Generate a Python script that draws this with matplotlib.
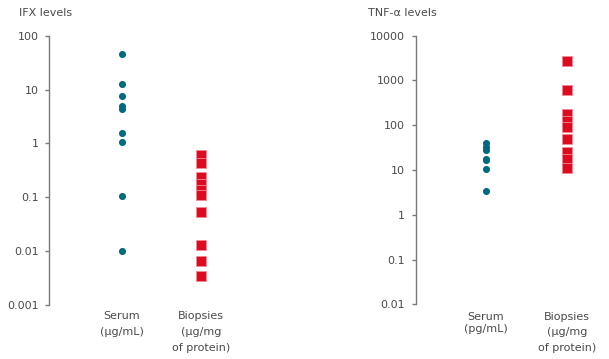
import matplotlib
matplotlib.use("Agg")
import matplotlib.pyplot as plt
import numpy as np

# ---- data ----
ifx_serum = [45, 12.6, 7.5, 5.0, 4.4, 1.55, 1.08, 0.105, 0.0102]
ifx_biopsies = [0.6, 0.44, 0.234, 0.18, 0.139, 0.112, 0.054, 0.0129, 0.0066, 0.0035]
tnf_serum = [39.6, 33, 28, 17.4, 16.5, 10.4, 3.37]
tnf_biopsies = [2770, 614, 181, 123, 90, 49, 25.8, 18, 11.3]

ifx_ticks = [0.001, 0.01, 0.1, 1, 10, 100]
ifx_ticklabels = ["0.001", "0.01", "0.1", "1", "10", "100"]
tnf_ticks = [0.01, 0.1, 1, 10, 100, 1000, 10000]
tnf_ticklabels = ["0.01", "0.1", "1", "10", "100", "1000", "10000"]

TEAL = "#006b7f"
RED = "#df0a20"
TXT = "#4a4a4a"
SPINE = "#7a7a7a"
FS = 8

W, H = 609, 359
fig = plt.figure(figsize=(W / 100, H / 100), dpi=100)

def make_ax(x_spine, x_right, y_top, y_bot):
    return fig.add_axes([x_spine / W, 1 - y_bot / H, (x_right - x_spine) / W, (y_bot - y_top) / H])

def style(ax, ticks, labels, ylim):
    ax.set_yscale("log")
    ax.set_ylim(*ylim)
    ax.set_yticks(ticks)
    ax.set_yticklabels(labels)
    ax.yaxis.set_minor_locator(matplotlib.ticker.NullLocator())
    ax.set_xticks([])
    for s in ["top", "right", "bottom"]:
        ax.spines[s].set_visible(False)
    ax.spines["left"].set_color(SPINE)
    ax.spines["left"].set_linewidth(1.0)
    ax.tick_params(axis="y", length=3, width=1.0, color=SPINE, pad=4.5,
                   labelsize=FS, labelcolor=TXT)
    ax.patch.set_alpha(0)

# Left panel
ax1 = make_ax(49.3, 250, 35.7, 305)
style(ax1, ifx_ticks, ifx_ticklabels, (0.001, 100))
k1 = 79.0
x0 = 1 - (122 - 49.3) / k1
ax1.set_xlim(x0, x0 + (250 - 49.3) / k1)
ax1.scatter([1] * len(ifx_serum), ifx_serum, s=26, color=TEAL, marker="o", linewidths=0, zorder=3, clip_on=False)
ax1.scatter([2] * len(ifx_biopsies), ifx_biopsies, s=54, color=RED, marker="s", linewidths=0.6,
            edgecolors="#f08a94", zorder=3, clip_on=False)

# Right panel
ax2 = make_ax(415.7, 609, 35.7, 304.3)
style(ax2, tnf_ticks, tnf_ticklabels, (0.01, 10000))
k2 = 81.3
x0b = 1 - (486 - 415.7) / k2
ax2.set_xlim(x0b, x0b + (609 - 415.7) / k2)
ax2.scatter([1] * len(tnf_serum), tnf_serum, s=26, color=TEAL, marker="o", linewidths=0, zorder=3, clip_on=False)
ax2.scatter([2] * len(tnf_biopsies), tnf_biopsies, s=54, color=RED, marker="s", linewidths=0.6,
            edgecolors="#f08a94", zorder=3, clip_on=False)

# Category labels (baselines in px below axes bottom)
def cat_label(ax, x, lines, offsets_px):
    for line, off in zip(lines, offsets_px):
        ax.annotate(line, xy=(x, 0), xycoords=("data", "axes fraction"),
                    xytext=(0, -off * 0.72), textcoords="offset points",
                    ha="center", va="baseline", fontsize=FS, color=TXT, annotation_clip=False)

cat_label(ax1, 1, ["Serum", "(\u00b5g/mL)"], [14, 30])
cat_label(ax1, 2, ["Biopsies", "(\u00b5g/mg", "of protein)"], [14, 30, 46])
cat_label(ax2, 1, ["Serum", "(pg/mL)"], [15.7, 27.7])
cat_label(ax2, 2, ["Biopsies", "(\u00b5g/mg", "of protein)"], [15.7, 30.7, 46.7])

# Titles
fig.text(19 / W, 1 - 15.5 / H, "IFX levels", ha="left", va="baseline", fontsize=FS, color=TXT)
fig.text(367.7 / W, 1 - 15.5 / H, "TNF-\u03b1 levels", ha="left", va="baseline", fontsize=FS, color=TXT)

fig.savefig("out.png", dpi=100)
